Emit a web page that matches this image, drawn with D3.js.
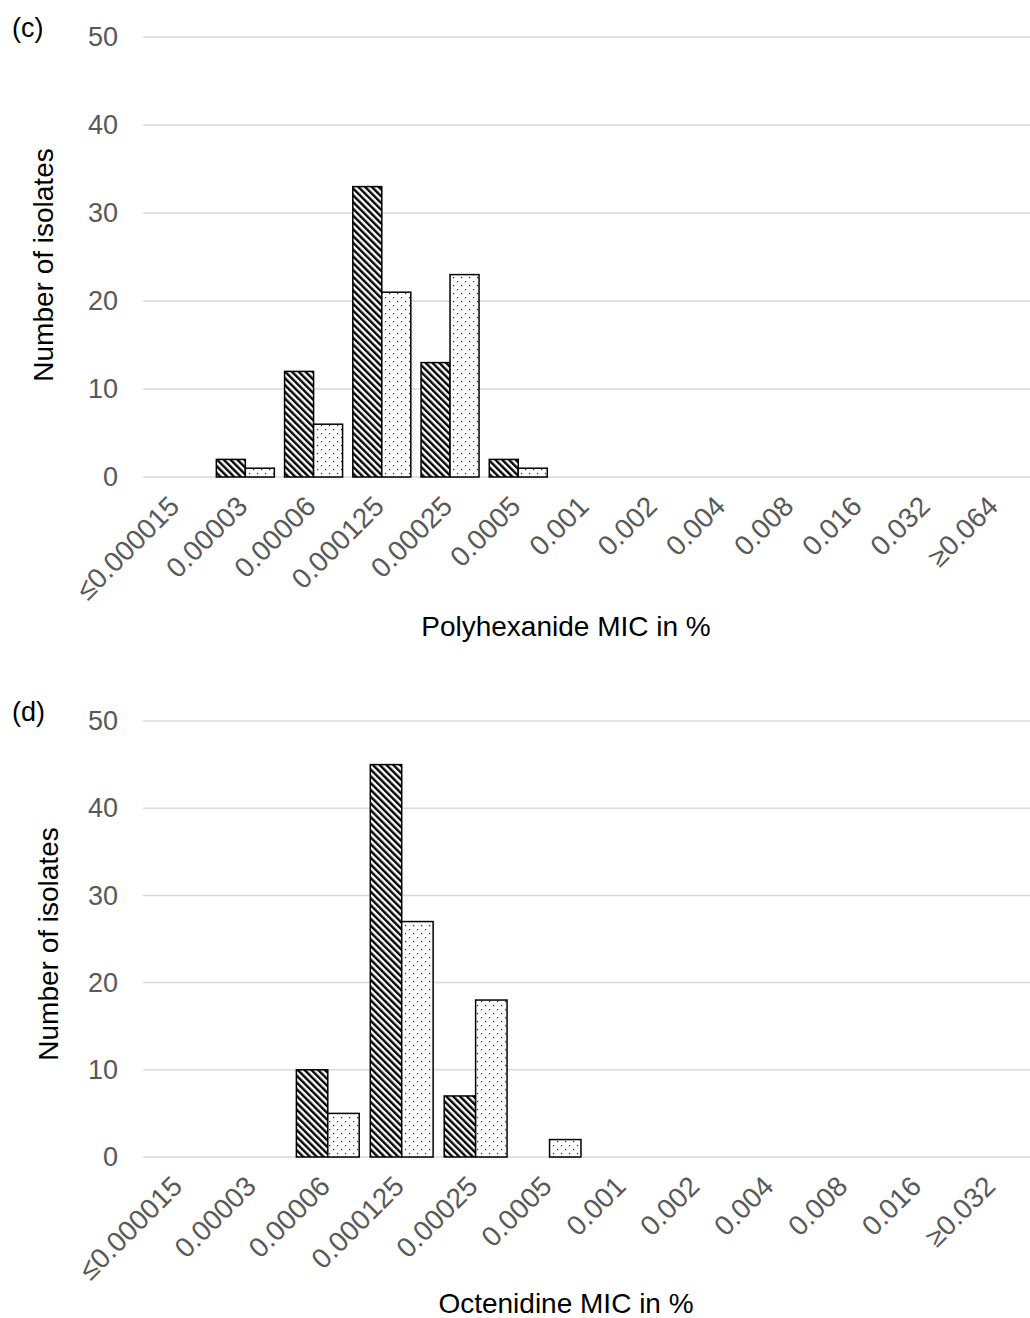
<!DOCTYPE html>
<html>
<head>
<meta charset="utf-8">
<script src="https://cdn.jsdelivr.net/npm/d3@7"></script>
<style>
  body { margin: 0; background: #fff; }
  text { font-family: "Liberation Sans", Arial, sans-serif; }
</style>
</head>
<body>
<div id="chart"></div>
<script>
// Panel (c): polyhexanide
const phxCategories = ["≤0.000015", "0.00003", "0.00006", "0.000125", "0.00025", "0.0005",
    "0.001", "0.002", "0.004", "0.008", "0.016", "0.032", "≥0.064"];
const phxHatched = [0, 2, 12, 33, 13, 2, 0, 0, 0, 0, 0, 0, 0];
const phxDotted  = [0, 1, 6, 21, 23, 1, 0, 0, 0, 0, 0, 0, 0];

// Panel (d): octenidine
const octCategories = ["≤0.000015", "0.00003", "0.00006", "0.000125", "0.00025", "0.0005",
    "0.001", "0.002", "0.004", "0.008", "0.016", "≥0.032"];
const octHatched = [0, 0, 10, 45, 7, 0, 0, 0, 0, 0, 0, 0];
const octDotted  = [0, 0, 5, 27, 18, 2, 0, 0, 0, 0, 0, 0];

const yTicks = [0, 10, 20, 30, 40, 50];

const svg = d3.select("#chart")
    .append("svg")
    .attr("width", 1030)
    .attr("height", 1318);

// Fill patterns
const defs = svg.append("defs");
defs.append("pattern")
    .attr("id", "hatch")
    .attr("patternUnits", "userSpaceOnUse")
    .attr("width", 4.8)
    .attr("height", 4.8)
    .attr("patternTransform", "rotate(-45)")
    .call(p => {
        p.append("rect").attr("width", 4.8).attr("height", 4.8).attr("fill", "#fff");
        p.append("rect").attr("width", 2.4).attr("height", 4.8).attr("fill", "#000");
    });
defs.append("pattern")
    .attr("id", "dots")
    .attr("patternUnits", "userSpaceOnUse")
    .attr("width", 8)
    .attr("height", 8)
    .call(p => {
        p.append("rect").attr("width", 8).attr("height", 8).attr("fill", "#fff");
        p.append("rect").attr("x", 1).attr("y", 1).attr("width", 1.2).attr("height", 1.2).attr("fill", "#222");
        p.append("rect").attr("x", 5).attr("y", 5).attr("width", 1.2).attr("height", 1.2).attr("fill", "#222");
    });

function drawPanel(opts) {
    const g = svg.append("g");
    const x = d3.scaleBand()
        .domain(opts.categories)
        .range([143, 1030])
        .paddingInner(0.15)
        .paddingOuter(0.075);
    const y = d3.scaleLinear()
        .domain([0, 50])
        .range([opts.bottom, opts.top]);

    // Gridlines
    g.selectAll(".grid")
        .data(yTicks)
        .enter()
        .append("line")
        .attr("x1", 143)
        .attr("x2", 1030)
        .attr("y1", d => y(d))
        .attr("y2", d => y(d))
        .attr("stroke", "#d9d9d9")
        .attr("stroke-width", 1.5);

    // Y axis labels
    const yAxis = g.append("g")
        .attr("transform", "translate(118,0)")
        .call(d3.axisLeft(y).tickValues(yTicks).tickSize(0).tickPadding(0));
    yAxis.select(".domain").remove();
    yAxis.selectAll("text")
        .attr("fill", "#595959")
        .style("font-size", "27px")
        .style("font-family", "Liberation Sans, Arial, sans-serif");

    // X axis labels
    const xAxis = g.append("g")
        .attr("transform", `translate(0,${opts.bottom})`)
        .call(d3.axisBottom(x).tickSize(0).tickPadding(0));
    xAxis.select(".domain").remove();
    xAxis.selectAll("text")
        .attr("fill", "#595959")
        .style("font-size", "28px")
        .style("font-family", "Liberation Sans, Arial, sans-serif")
        .attr("text-anchor", "end")
        .attr("dy", null)
        .attr("y", 0)
        .attr("transform", "translate(4,31) rotate(-45)");

    const bw = x.bandwidth() / 2;
    // Hatched series
    g.selectAll(".bar-h")
        .data(opts.hatched.map((v, i) => ({ c: opts.categories[i], v })).filter(d => d.v > 0))
        .enter()
        .append("rect")
        .attr("x", d => x(d.c))
        .attr("y", d => y(d.v))
        .attr("width", bw)
        .attr("height", d => y(0) - y(d.v))
        .attr("fill", "url(#hatch)")
        .attr("stroke", "#000")
        .attr("stroke-width", 1.5);
    // Dotted series
    g.selectAll(".bar-d")
        .data(opts.dotted.map((v, i) => ({ c: opts.categories[i], v })).filter(d => d.v > 0))
        .enter()
        .append("rect")
        .attr("x", d => x(d.c) + bw)
        .attr("y", d => y(d.v))
        .attr("width", bw)
        .attr("height", d => y(0) - y(d.v))
        .attr("fill", "url(#dots)")
        .attr("stroke", "#000")
        .attr("stroke-width", 1.5);

    // Panel letter
    g.append("text")
        .attr("x", 12)
        .attr("y", opts.top)
        .style("font-size", "27px")
        .attr("fill", "#000")
        .text(opts.letter);

    // Axis titles
    g.append("text")
        .attr("transform", `translate(${opts.yTitleX},${opts.yTitleY}) rotate(-90)`)
        .attr("text-anchor", "middle")
        .style("font-size", "28px")
        .attr("fill", "#000")
        .text("Number of isolates");
    g.append("text")
        .attr("x", 566)
        .attr("y", opts.xTitleY)
        .attr("text-anchor", "middle")
        .style("font-size", "28px")
        .attr("fill", "#000")
        .text(opts.xTitle);
}

drawPanel({
    letter: "(c)", categories: phxCategories, hatched: phxHatched, dotted: phxDotted,
    top: 37, bottom: 477, yTitleX: 53, yTitleY: 265,
    xTitle: "Polyhexanide MIC in %", xTitleY: 636
});
drawPanel({
    letter: "(d)", categories: octCategories, hatched: octHatched, dotted: octDotted,
    top: 721, bottom: 1157, yTitleX: 58, yTitleY: 944,
    xTitle: "Octenidine MIC in %", xTitleY: 1313
});
</script>
</body>
</html>
